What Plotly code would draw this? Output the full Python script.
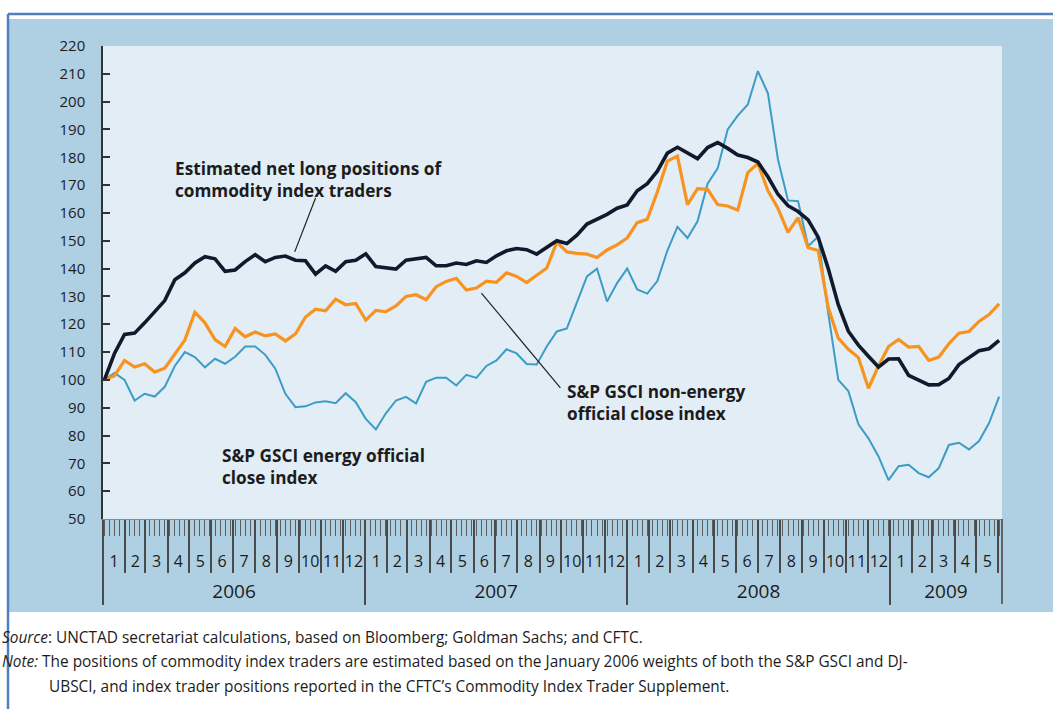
import pandas as pd
import plotly.graph_objects as go

# ---------------- data (bi-weekly, index Jan 2006 = 100) ----------------
START = "2006-01-03"
N_POINTS = 90
STEP = "14D"

net_long = [100, 109.5, 116.3, 116.8, 120.5, 124.5, 128.5, 136, 138.5, 142,
            144.3, 143.5, 139, 139.5, 142.5, 145, 142.5, 144, 144.5, 143,
            142.8, 138, 141, 139, 142.5, 143, 145.3, 140.7, 140.4, 139.8,
            143, 143.5, 144, 141, 141, 142, 141.5, 142.8, 142.2, 144.6,
            146.4, 147.2, 146.8, 145.2, 147.5, 150, 149, 152, 156, 157.7,
            159.5, 161.7, 162.9, 168, 170.5, 175, 181.5, 183.6, 181.5, 179.5,
            183.5, 185.3, 183.2, 180.8, 179.9, 178.3, 173, 166.7, 162.6, 160.5,
            157.5, 151.3, 140, 127, 117.5, 112.5, 108.5, 104.6, 107.5, 107.6,
            101.6, 99.8, 98.2, 98.3, 100.5, 105.5, 108, 110.5, 111.2, 114.2]

non_energy = [100, 101.5, 107, 104.6, 105.8, 102.8, 104.2, 109.4, 114.3, 124.3,
              120.5, 114.5, 112, 118.5, 115.5, 117.2, 115.8, 116.5, 114, 116.5,
              122.6, 125.4, 124.8, 129, 127, 127.5, 121.5, 125, 124.5, 126.6,
              130, 130.6, 128.8, 133.5, 135.4, 136.5, 132.3, 133, 135.5, 135.1,
              138.5, 137.2, 135, 137.6, 140.2, 149.5, 146, 145.5, 145.2, 144,
              146.7, 148.5, 151, 156.5, 157.7, 167.5, 178.6, 180.4, 163, 168.7,
              168.5, 163, 162.5, 161, 174.5, 177.8, 168, 161.6, 153, 158.3,
              147.5, 146.5, 126, 115, 111, 108, 97, 105, 112, 114.5,
              111.8, 112, 107, 108.2, 113, 116.8, 117.4, 121, 123.5, 127.3]

energy = [100, 102.5, 100, 92.6, 95, 94, 97.5, 105, 110, 108.2,
          104.5, 107.6, 105.8, 108.3, 112, 112, 109, 104, 95, 90.2,
          90.5, 91.9, 92.3, 91.6, 95.2, 92, 86, 82.2, 88, 92.6,
          93.9, 91.5, 99.3, 100.8, 100.8, 98, 101.8, 100.7, 105, 107,
          111, 109.5, 105.7, 105.5, 112, 117.4, 118.5, 128, 137.2, 140,
          128.2, 134.8, 140, 132.5, 131, 135.5, 146.5, 155, 151, 157,
          170.5, 176, 190, 195, 199, 211, 203, 179.2, 164.5, 164.2,
          148, 151.5, 124, 100, 96, 84, 79, 72.5, 64, 69,
          69.5, 66.5, 65, 68.3, 76.6, 77.4, 75, 78, 84.5, 94]

X_RANGE = ["2006-01-01", "2009-06-06"]
Y_RANGE = [50, 220]
YEARS = [2006, 2007, 2008, 2009]
FOOT_LINES = [
    "<i>Source</i>: UNCTAD secretariat calculations, based on Bloomberg; Goldman Sachs; and CFTC.",
    "<i>Note:</i> The positions of commodity index traders are estimated based on the January 2006 weights of both the S&P GSCI and DJ-",
    "UBSCI, and index trader positions reported in the CFTC\u2019s Commodity Index Trader Supplement.",
]

dates = pd.date_range(START, periods=N_POINTS, freq=STEP)

# ---------------- styling ----------------
FONT = "Open Sans"
BAND = "#AFCFE3"
PLOT_BG = "#E2EDF6"
TXT = "#1c1c1c"
TICK = "#4a4a4a"

W, H = 1053, 709
L, R, T, B = 103, 51, 46, 190
PW, PH = W - L - R, H - T - B


def px_x(px):
    return (px - L) / PW


def px_y(py):
    return (H - B - py) / PH


fig = go.Figure()
fig.add_trace(go.Scatter(x=dates, y=energy, mode="lines", line=dict(color="#3D9CC6", width=2),
                         name="S&P GSCI energy", hoverinfo="x+y"))
fig.add_trace(go.Scatter(x=dates, y=non_energy, mode="lines", line=dict(color="#F7931E", width=3.2),
                         name="S&P GSCI non-energy", hoverinfo="x+y"))
fig.add_trace(go.Scatter(x=dates, y=net_long, mode="lines", line=dict(color="#111a2c", width=3.6),
                         name="Net long positions", hoverinfo="x+y"))
# empty traces so that the overlaid ruler axes get drawn
for ax in ["x2", "x3", "x4"]:
    fig.add_trace(go.Scatter(x=[], y=[], xaxis=ax, yaxis="y", mode="lines",
                             showlegend=False, hoverinfo="skip"))

# year label positions: middle of the visible part of each year
end_ts = pd.Timestamp(X_RANGE[1])
year_mid, year_txt = [], []
for yv in YEARS:
    a = pd.Timestamp(f"{yv}-01-01")
    b = min(pd.Timestamp(f"{yv + 1}-01-01"), end_ts)
    year_mid.append(a + (b - a) / 2)
    year_txt.append(str(yv))

common_x = dict(type="date", range=X_RANGE, showgrid=False, zeroline=False, fixedrange=True)

fig.update_layout(
    width=W, height=H,
    margin=dict(l=L, r=R, t=T, b=B, pad=0),
    paper_bgcolor="white",
    plot_bgcolor="rgba(0,0,0,0)",
    showlegend=False,
    font=dict(family=FONT, color=TXT),
    xaxis=dict(**common_x, showline=True, linecolor="#8a8a8a", linewidth=1,
               ticks="outside", tickmode="linear", tick0="2006-01-01", dtick="M1",
               ticklen=53, tickwidth=1.6, tickcolor=TICK, showticklabels=False,
               minor=dict(ticks="outside", tick0="2006-01-03", dtick=7 * 86400000,
                          ticklen=16, tickwidth=1.1, tickcolor="#5e5e5e", showgrid=False)),
    xaxis2=dict(**common_x, overlaying="x", anchor="y", side="bottom", showline=False,
                ticks="outside", tickmode="linear", tick0="2006-01-01", dtick="M1",
                ticklabelmode="period", tickformat="%-m", ticklen=28,
                tickcolor="rgba(0,0,0,0)", tickfont=dict(size=16, color=TXT)),
    xaxis3=dict(**common_x, overlaying="x", anchor="y", side="bottom", showline=False,
                ticks="outside", tickmode="linear", tick0="2006-01-01", dtick="M12",
                ticklen=85, tickwidth=1.6, tickcolor=TICK, showticklabels=False),
    xaxis4=dict(**common_x, overlaying="x", anchor="y", side="bottom", showline=False,
                ticks="outside", tickmode="array", tickvals=year_mid, ticktext=year_txt,
                ticklen=55, tickcolor="rgba(0,0,0,0)", tickfont=dict(size=19, color=TXT)),
    yaxis=dict(range=Y_RANGE, tickmode="linear", tick0=50, dtick=10, showgrid=False,
               zeroline=False, showline=True, linecolor="#333333", linewidth=1.5,
               ticks="inside", ticklen=7, tickwidth=1.5, tickcolor="#333333",
               ticklabelstandoff=13, tickfont=dict(size=15, color=TXT), fixedrange=True),
)

# background band, plot panel, blue frame lines, right end tick of the ruler
fig.add_shape(type="rect", xref="paper", yref="paper", x0=px_x(9), x1=px_x(W + 5),
              y0=px_y(612), y1=px_y(19), fillcolor=BAND, line=dict(width=0), layer="below")
fig.add_shape(type="rect", xref="paper", yref="paper", x0=0, x1=1, y0=0, y1=1,
              fillcolor=PLOT_BG, line=dict(width=0), layer="below")
fig.add_shape(type="line", xref="paper", yref="paper", x0=px_x(8), x1=px_x(W + 5),
              y0=px_y(14), y1=px_y(14), line=dict(color="#4F7FBC", width=2.5))
fig.add_shape(type="line", xref="paper", yref="paper", x0=px_x(8), x1=px_x(8),
              y0=px_y(14), y1=px_y(H + 5), line=dict(color="#4F7FBC", width=2.5))
fig.add_shape(type="line", xref="paper", yref="paper", x0=1, x1=1,
              y0=0, y1=px_y(604), line=dict(color=TICK, width=1.6))

# series labels with pointer lines
lab_font = dict(family=FONT, size=17.2, color=TXT)
fig.add_annotation(x="2006-04-08", y=172.2, xref="x", yref="y", xanchor="left", yanchor="middle",
                   align="left", showarrow=False, font=lab_font,
                   text="<b>Estimated net long positions of<br>commodity index traders</b>")
fig.add_annotation(x="2007-10-07", y=91.7, xref="x", yref="y", xanchor="left", yanchor="middle",
                   align="left", showarrow=False, font=lab_font,
                   text="<b>S&P GSCI non-energy<br>official close index</b>")
fig.add_annotation(x="2006-06-13", y=69, xref="x", yref="y", xanchor="left", yanchor="middle",
                   align="left", showarrow=False, font=lab_font,
                   text="<b>S&P GSCI energy official<br>close index</b>")
fig.add_shape(type="line", xref="x", yref="y", x0="2006-10-24", y0=165.4, x1="2006-09-25", y1=146.0,
              line=dict(color="#222222", width=1.2))
fig.add_shape(type="line", xref="x", yref="y", x0="2007-06-12", y0=131.2, x1="2007-09-30", y1=97.1,
              line=dict(color="#222222", width=1.2))

# footnotes
foot_font = dict(family=FONT, size=15.4, color=TXT)
for txt, xp, yp in zip(FOOT_LINES, [0, 0, 47], [637, 661, 686]):
    fig.add_annotation(x=px_x(xp), y=px_y(yp), xref="paper", yref="paper", xanchor="left",
                       yanchor="middle", align="left", showarrow=False, font=foot_font, text=txt)

fig.write_html("out.html", config={"displayModeBar": False},
               post_script="document.body.style.margin='0px';document.body.style.padding='0px';")
